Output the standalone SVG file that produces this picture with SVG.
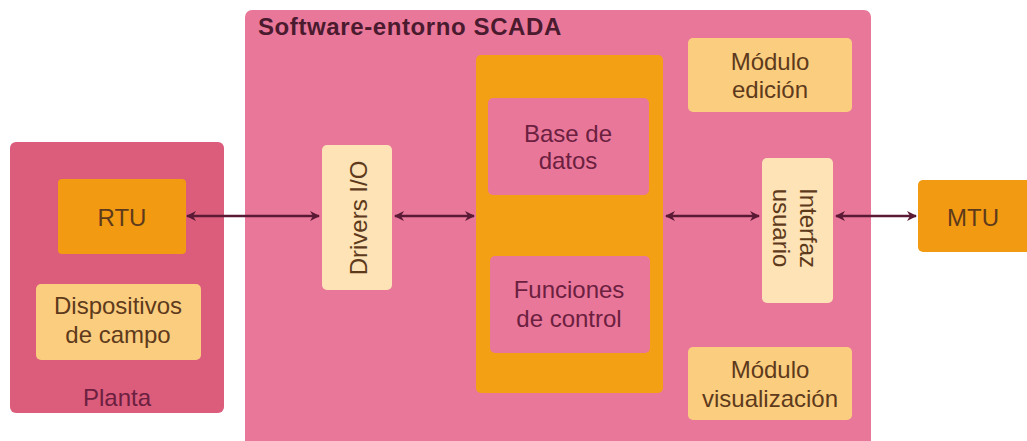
<svg xmlns="http://www.w3.org/2000/svg" width="1027" height="441" viewBox="0 0 1027 441">
<defs>
<marker id="ah" viewBox="0 0 10 10" refX="9" refY="5" markerWidth="11" markerHeight="10" markerUnits="userSpaceOnUse" orient="auto-start-reverse">
<path d="M0,0 L10,5 L0,10 L3,5 z" fill="#5a1a35"/>
</marker>
<style>
text{font-family:"Liberation Sans",Arial,sans-serif;font-size:24px;text-anchor:middle}
.dark{fill:#5e3a1c}
.mar{fill:#6b2040}
.pale{fill:#fde3b5}
.lt{fill:#fbcd7e}
.org{fill:#f29a12}
.pink{fill:#e9779a}
.con{stroke:#5a1a35;stroke-width:2.5;fill:none;marker-start:url(#ah);marker-end:url(#ah)}
</style>
</defs>
<rect width="1027" height="441" fill="#ffffff"/>
<g id="planta">
<rect x="10" y="142" width="214" height="271" rx="6" fill="#dc5c7c"/>
<text x="117" y="406" class="mar">Planta</text>
</g>
<g id="rtu">
<rect x="58" y="179" width="128" height="75" rx="4" class="org"/>
<text x="122" y="226" class="dark">RTU</text>
</g>
<g id="dispositivos">
<rect x="36" y="284" width="165" height="76" rx="5" class="lt"/>
<text x="118" y="314" class="dark">Dispositivos</text>
<text x="118" y="343" class="dark">de campo</text>
</g>
<g id="scada">
<rect x="245" y="10" width="626" height="440" rx="7" class="pink"/>
<text x="258" y="35" style="text-anchor:start;font-weight:bold;font-size:24px;letter-spacing:0.6px" fill="#4a1a2e">Software-entorno SCADA</text>
</g>
<g id="drivers">
<rect x="322" y="145" width="70" height="145" rx="5" class="pale"/>
<text transform="translate(367,218) rotate(-90)" class="dark">Drivers I/O</text>
</g>
<g id="nucleo">
<rect x="476" y="55" width="187" height="338" rx="5" fill="#f4a015"/>
</g>
<g id="base">
<rect x="488" y="98" width="161" height="97" rx="5" class="pink"/>
<text x="568" y="142" class="mar">Base de</text>
<text x="568" y="169" class="mar">datos</text>
</g>
<g id="funciones">
<rect x="490" y="256" width="160" height="97" rx="5" class="pink"/>
<text x="569" y="298" class="mar">Funciones</text>
<text x="569" y="327" class="mar">de control</text>
</g>
<g id="edicion">
<rect x="688" y="38" width="164" height="74" rx="5" class="lt"/>
<text x="770" y="70" class="dark">Módulo</text>
<text x="770" y="98" class="dark">edición</text>
</g>
<g id="interfaz">
<rect x="762" y="158" width="71" height="145" rx="5" class="pale"/>
<text transform="translate(797,228) rotate(90)" class="dark"><tspan x="0" y="-3">Interfaz</tspan><tspan x="0" y="24">usuario</tspan></text>
</g>
<g id="visualizacion">
<rect x="688" y="347" width="164" height="73" rx="5" class="lt"/>
<text x="770" y="378" class="dark">Módulo</text>
<text x="770" y="407" class="dark">visualización</text>
</g>
<g id="mtu">
<rect x="918" y="180" width="115" height="72" rx="5" class="org"/>
<text x="973" y="226" class="dark">MTU</text>
</g>
<g id="connectors">
<line x1="187" y1="216" x2="319" y2="216" class="con"/>
<line x1="395" y1="216" x2="474" y2="216" class="con"/>
<line x1="666" y1="216" x2="759" y2="216" class="con"/>
<line x1="836" y1="216" x2="916" y2="216" class="con"/>
</g>
</svg>
